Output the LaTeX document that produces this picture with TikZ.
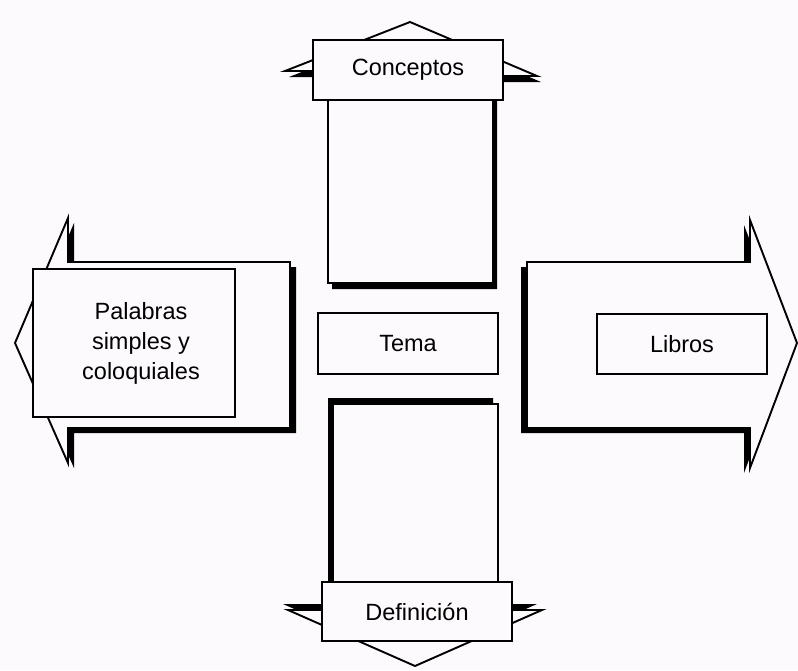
\documentclass[tikz,border=0pt]{standalone}
\usepackage{fontspec}
\setmainfont{Liberation Sans}
\definecolor{bg}{RGB}{253,250,253}
\begin{document}
\begin{tikzpicture}[x=1pt,y=-1pt,
  outl/.style={draw=black,line width=1.9pt,fill=bg,line join=miter},
  box/.style={draw=black,line width=1.9pt,fill=bg,inner sep=0pt,align=center,
    font=\fontsize{23.5}{30}\selectfont}]
\fill[bg] (0,0) rectangle (798,670);
\useasboundingbox (0,0) rectangle (798,670);
% top arrow (shadow then shape)
\def\toparrow{(328,283) -- (328,71) -- (285,71) -- (410,22) -- (537,76) -- (493,76) -- (493,283) -- cycle}
\begin{scope}[shift={(4,6)}]\fill[black] \toparrow;\end{scope}
\draw[outl] \toparrow;
% left arrow
\def\leftarrow{(290,262) -- (68,262) -- (68,218) -- (15,343) -- (68,463) -- (68,428) -- (290,428) -- cycle}
\begin{scope}[shift={(6,5)}]\fill[black] \leftarrow;\end{scope}
\draw[outl] \leftarrow;
% right arrow
\def\rightarrow{(527,262) -- (750,262) -- (750,220) -- (797,343) -- (750,468) -- (750,428) -- (527,428) -- cycle}
\begin{scope}[shift={(-6,5)}]\fill[black] \rightarrow;\end{scope}
\draw[outl] \rightarrow;
% bottom arrow
\def\botarrow{(333,404) -- (498,404) -- (498,610) -- (542,610) -- (415,666) -- (288,610) -- (333,610) -- cycle}
\begin{scope}[shift={(-5,-6)}]\fill[black] \botarrow;\end{scope}
\draw[outl] \botarrow;
% boxes
\node[box,minimum width=190pt,minimum height=60pt] (conceptos) at (408,70) {Conceptos};
\node[box,minimum width=190pt,minimum height=59pt] (definicion) at (417,611.5) {Definición};
\node[box,minimum width=202pt,minimum height=148pt] (palabras) at (134,343) {\hspace*{14pt}Palabras\\\hspace*{14pt}simples y\\\hspace*{14pt}coloquiales};
\node[box,minimum width=170pt,minimum height=60pt] (libros) at (682,344) {Libros};
\node[box,minimum width=180pt,minimum height=61pt] (tema) at (408,343.5) {Tema};
\end{tikzpicture}
\end{document}
